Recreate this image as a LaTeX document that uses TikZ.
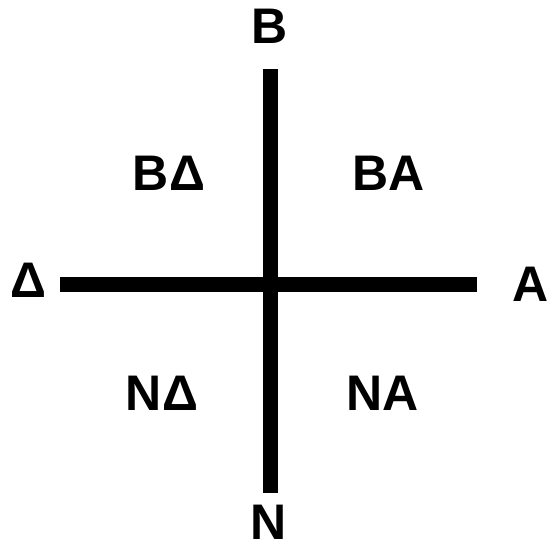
\documentclass[tikz,border=0pt]{standalone}
\usepackage{fontspec}
\setmainfont{Liberation Sans}
\begin{document}
\begin{tikzpicture}[x=1pt,y=-1pt,
  lbl/.style={inner sep=0pt,font=\fontsize{50}{50}\selectfont\bfseries},
  axis/.style={line width=15pt}]
\useasboundingbox (0,0) rectangle (557,549);
\coordinate (top) at (270,69);
\coordinate (bot) at (270,493);
\coordinate (lft) at (60,284);
\coordinate (rgt) at (477,284);
\draw[axis] (top) -- (bot);
\draw[axis] (lft) -- (rgt);
\node[lbl] (B) at (270,26) {B};
\node[lbl] (N) at (269,522) {N};
\node[lbl] (D) at (28,280) {Δ};
\node[lbl] (A) at (531,284) {A};
\node[lbl] (BD) at (169,173) {BΔ};
\node[lbl] (BA) at (389,173) {BA};
\node[lbl] (ND) at (162,393) {NΔ};
\node[lbl] (NA) at (383,393) {NA};
\end{tikzpicture}
\end{document}
